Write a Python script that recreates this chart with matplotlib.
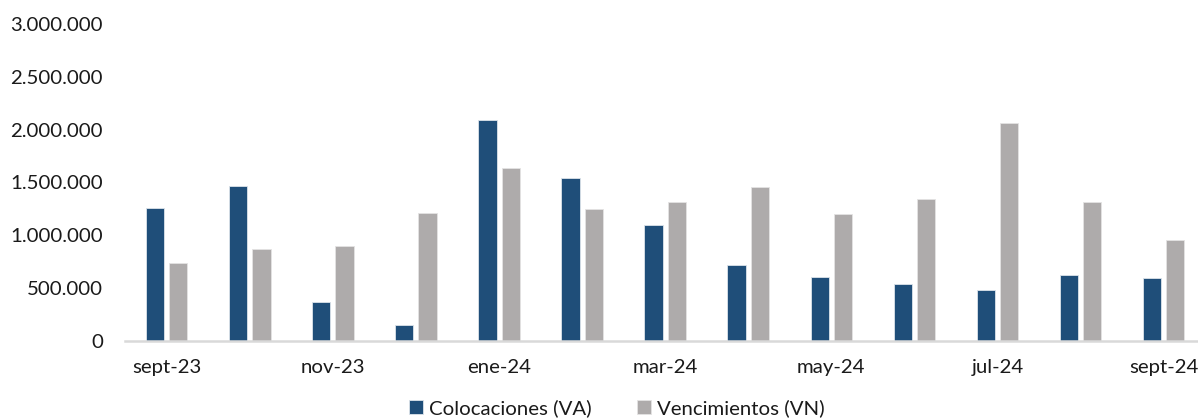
import matplotlib
matplotlib.use("Agg")
import matplotlib.pyplot as plt
from matplotlib.ticker import FuncFormatter
import numpy as np

months = ["sept-23", "oct-23", "nov-23", "dic-23", "ene-24", "feb-24", "mar-24",
          "abr-24", "may-24", "jun-24", "jul-24", "ago-24", "sept-24"]
colocaciones = [1258000, 1471000, 373000, 153000, 2089000, 1541000, 1102000,
                717000, 608000, 541000, 484000, 621000, 599000]
vencimientos = [736000, 869000, 895000, 1213000, 1634000, 1252000, 1315000,
                1459000, 1204000, 1344000, 2060000, 1315000, 959000]
series_names = ["Colocaciones (VA)", "Vencimientos (VN)"]

BLUE = "#1F4E79"
GREY = "#AEABAB"

plt.rcParams["font.family"] = ["Lato", "DejaVu Sans"]

fig = plt.figure(figsize=(11.98, 4.19), dpi=100)
ax = fig.add_axes([0.1045, 0.186, 0.9015, 0.757])

x = np.arange(len(months))
w = 0.22
off = 0.14
ax.bar(x - off, colocaciones, w, color=BLUE, edgecolor="#DCE3EA", linewidth=0.6,
       label=series_names[0], zorder=2)
ax.bar(x + off, vencimientos, w, color=GREY, edgecolor="#E4E3E3", linewidth=0.6,
       label=series_names[1], zorder=2)

ax.set_xlim(-0.5, len(months) - 0.5)
ax.set_ylim(0, 3000000)
ax.set_yticks(np.arange(0, 3000001, 500000))
ax.yaxis.set_major_formatter(FuncFormatter(lambda v, p: f"{int(v):,}".replace(",", ".")))
ax.set_xticks(x[::2])
ax.set_xticklabels(months[::2])

for s in ["top", "right", "left"]:
    ax.spines[s].set_visible(False)
ax.spines["bottom"].set_color("#D9D9D9")
ax.spines["bottom"].set_linewidth(1.8)
ax.spines["bottom"].set_zorder(3)

ax.tick_params(axis="both", length=0, labelsize=14.7, colors="#1a1a1a")
ax.tick_params(axis="y", pad=16)
ax.tick_params(axis="x", pad=13)

fig.legend(loc="center", bbox_to_anchor=(0.515, 0.025), ncol=2, frameon=False,
           fontsize=14.7, handlelength=0.7, handleheight=0.7, handletextpad=0.3,
           columnspacing=2.2, labelcolor="#1a1a1a")

fig.savefig("out.png", dpi=100)
